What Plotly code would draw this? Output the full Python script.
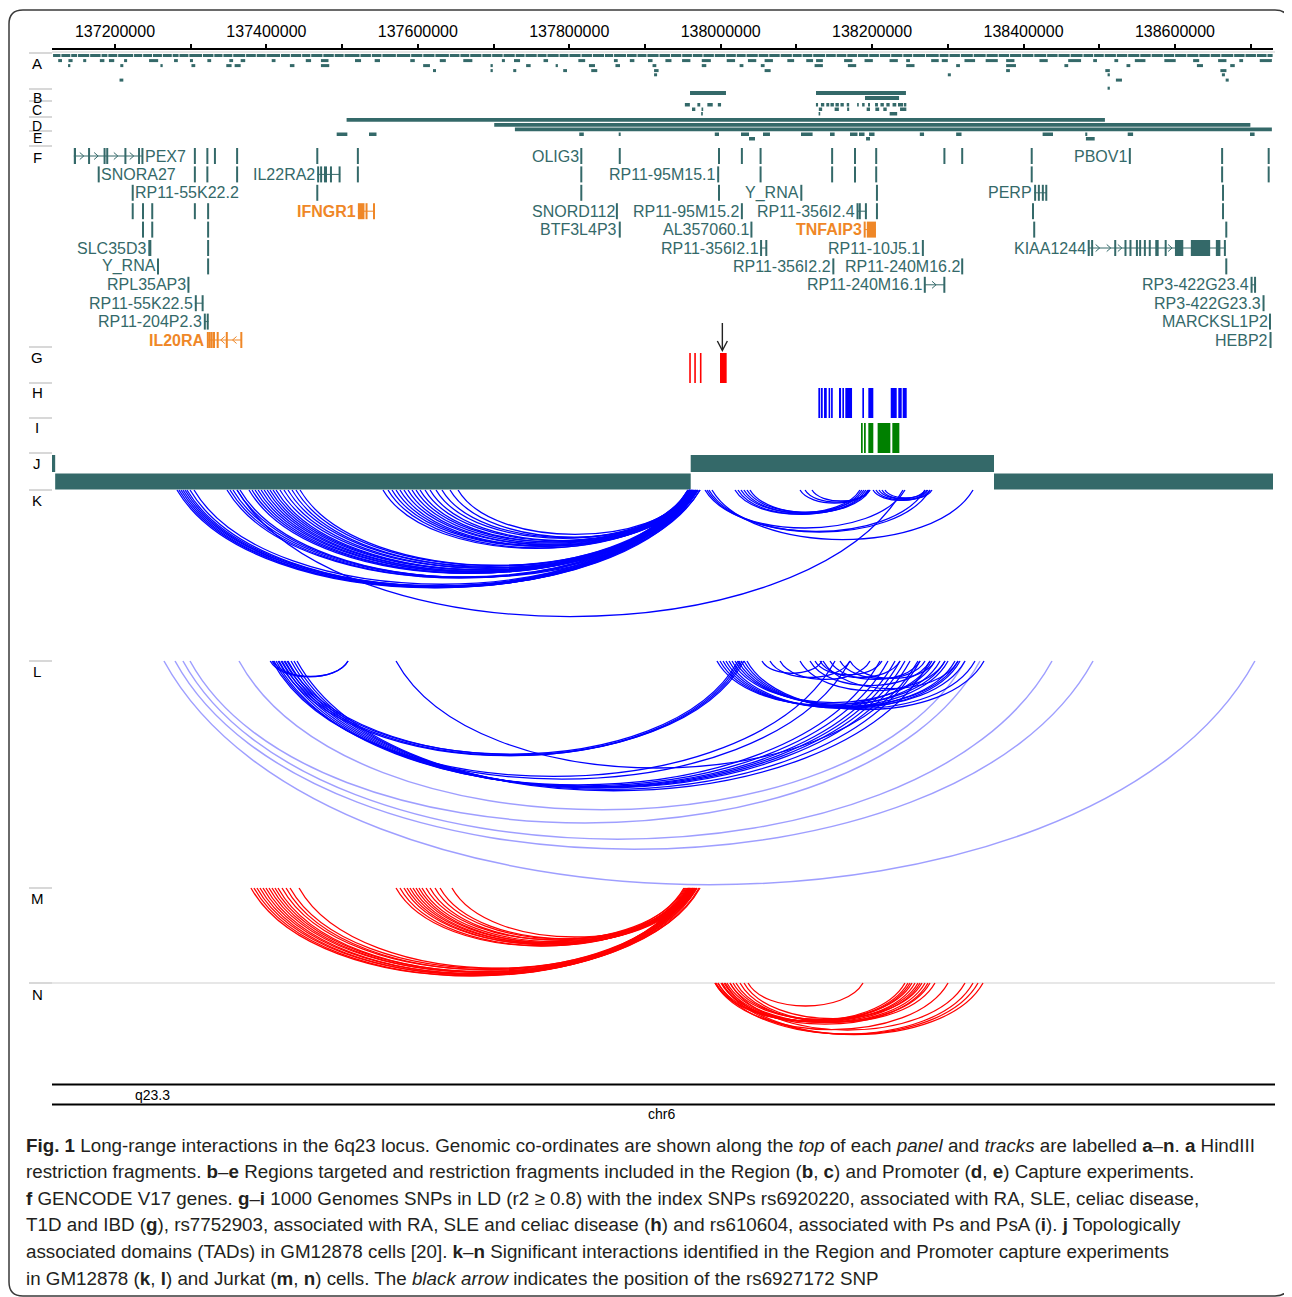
import plotly.graph_objects as go

# ---------------------------------------------------------------- data (kb, chr6)
AXIS_RANGE_KB = [137116.8, 138729.5]

HINDIII_ROW0_BREAKS = [137117, 137128, 137141, 137150, 137166, 137181, 137190, 137203, 137224, 137236, 137249,
    137262, 137275, 137284, 137297, 137315, 137330, 137342, 137355, 137372, 137386, 137399, 137418, 137431,
    137446, 137458, 137474, 137489, 137502, 137523, 137538, 137552, 137571, 137590, 137606, 137622, 137641,
    137655, 137668, 137684, 137697, 137712, 137728, 137741, 137757, 137770, 137786, 137799, 137815, 137830,
    137846, 137858, 137875, 137889, 137902, 137918, 137933, 137948, 137962, 137976, 137991, 138006, 138020,
    138033, 138049, 138063, 138078, 138094, 138107, 138121, 138138, 138152, 138166, 138180, 138195, 138209,
    138224, 138240, 138253, 138270, 138288, 138301, 138316, 138333, 138350, 138366, 138381, 138397, 138413,
    138430, 138445, 138461, 138478, 138492, 138506, 138522, 138537, 138553, 138568, 138584, 138599, 138615,
    138631, 138646, 138660, 138677, 138692, 138707, 138721, 138729]
HINDIII_ROW1 = [[137125,137130],[137138.5,137144],[137158,137162],[137180,137186],[137192,137199],[137212,137216],
    [137245,137257],[137278,137283],[137299,137303],[137322,137327],[137351,137356],[137366,137372],[137407,137412],
    [137452,137459],[137472,137482],[137517,137525],[137543,137550],[137590,137596],[137629,137637],[137660,137672],
    [137711,137715],[137727,137735],[137766,137772],[137812,137821],[137859,137864],[137880,137886],[137904,137910],
    [137927,137935],[137949,137960],[137975,137987],[138008,138019],[138036,138047],[138058,138069],[138088,138097],
    [138113,138122],[138126,138135],[138163,138174],[138190,138201],[138223,138234],[138245,138250],[138278,138288],
    [138292,138300],[138322,138336],[138350,138366],[138377,138388],[138421,138432],[138459,138476],[138492,138497],
    [138520,138525],[138547,138561],[138586,138601],[138624,138632],[138657,138668],[138685,138690],[138712,138728]]
HINDIII_ROW2 = [[137138,137141],[137207,137211],[137260,137263],[137301,137306],[137347,137354],[137358,137366],
    [137431,137437],[137472,137483],[137607,137616],[137696,137699],[137743,137749],[137782,137785],[137826,137834],
    [137861,137867],[137910,137915],[137975,137981],[138025,138030],[138053,138058],[138124,138135],[138168,138179],
    [138245,138256],[138311,138316],[138377,138390],[138454,138459],[138536,138541],[138629,138637],[138673,138679]]
HINDIII_ROW3 = [[137620,137624],[137696,137699],[137726,137730],[137792,137797],[137829,137837],[137912,137918],
    [138058,138066],[138377,138382],[138508,138514],[138660,138668]]
HINDIII_ROW4 = [[137912,137916],[138300,138304],[138511,138514],[138662,138666]]
HINDIII_ROW5 = [[137206,137211],[138522,138530],[138667,138671]]
HINDIII_ROW6 = [[138511,138514]]

REGION_TARGETS_ROW0 = [[137959.5,138007.0],[138125.9,138244.7]]
REGION_TARGETS_ROW1 = [[138190.6,138235.6]]
REGION_FRAGS_ROW0 = [[137952.7,137959.3],[137969.2,137973.0],[137982.4,137989.5],[137996.2,138000.5],
    [138125.8,138128.6],[138132.4,138136.8],[138139.5,138143.4],[138145.0,138149.5],[138151.6,138156.1],
    [138158.2,138162.6],[138166.5,138169.7],[138180.2,138182.4],[138186.8,138190.1],[138194.6,138197.2],
    [138203.9,138207.7],[138211.0,138215.5],[138218.8,138223.2],[138227.0,138231.9],[138234.2,138240.8],
    [138241.9,138245.2]]
REGION_FRAGS_ROW1 = [[137962.1,137966.5],[137974.7,137976.9],[138129.6,138134.0],[138150.5,138156.1],
    [138167.0,138169.7],[138192.8,138197.2],[138204.3,138209.3],[138214.8,138219.3],[138236.9,138245.2]]
REGION_FRAGS_ROW2 = [[137974.2,137976.4],[138129.6,138131.2],[138223.2,138233.1]]

PROMOTER_TARGETS = [[137505.9,138507.5],[137700.9,138699.6],[137728.2,138728.0]]
PROMOTER_FRAGS_ROW0 = [[137492.8,137506.9],[137535.5,137545.4],[137813.2,137819.2],[137865.3,137867.9],
    [137992.2,137997.8],[138026.8,138037.4],[138055.9,138065.1],[138106.1,138121.4],[138144.4,138150.5],
    [138170.8,138180.7],[138182.7,138190.0],[138196.0,138203.2],[138263.0,138268.6],[138311.0,138318.1],
    [138425.2,138438.9],[138481.5,138484.2],[138537.6,138544.7],[138699.1,138705.2]]
PROMOTER_FRAGS_ROW1 = [[138037.4,138045.3],[138192.0,138197.2],[138482.4,138494.0]]

# GENCODE genes: name, row, exons, strand, label side, highlighted
GENE_NAMES = ["PEX7", "OLIG3", "PBOV1", "SNORA27", "IL22RA2", "RP11-95M15.1", "RP11-55K22.2", "Y_RNA", "PERP",
    "IFNGR1", "SNORD112", "RP11-95M15.2", "RP11-356I2.4", "BTF3L4P3", "AL357060.1", "TNFAIP3", "SLC35D3",
    "RP11-356I2.1", "RP11-10J5.1", "KIAA1244", "Y_RNA", "RP11-356I2.2", "RP11-240M16.2", "RPL35AP3",
    "RP11-240M16.1", "RP3-422G23.4", "RP11-55K22.5", "RP3-422G23.3", "RP11-204P2.3", "MARCKSL1P2", "IL20RA", "HEBP2"]
GENE_ROWS = [1, 1, 1, 2, 2, 2, 3, 3, 3, 4, 4, 4, 4, 5, 5, 5, 6, 6, 6, 6, 7, 7, 7, 8, 8, 8, 9, 9, 10, 10, 11, 11]
GENE_EXONS = [
    [[137145.6,137148.5],[137165,137166.5],[137185,137187.5],[137189,137190.5],[137213,137214.5],[137231,137232.5],[137235.5,137237]],
    [[137815.4,137816.4]],
    [[138539.9,138540.9]],
    [[137178.0,137179.0]],
    [[137467.2,137469.5],[137471,137473.5],[137476,137480],[137484.5,137486],[137496,137497.3]],
    [[137996.2,137997.2]],
    [[137222.9,137223.9]],
    [[138106.0,138107.0]],
    [[138414.1,138416.5],[138419.5,138421],[138425,138426],[138429.5,138430.6]],
    [[137520.8,137529.5],[137531.5,137533],[137541.5,137542.7]],
    [[137862.4,137863.4]],
    [[138027.5,138028.5]],
    [[138180,138181.5],[138183,138184.5],[138191,138192.6]],
    [[137866.2,137867.2]],
    [[138040.1,138041.1]],
    [[138189.6,138190.8],[138193,138205.1]],
    [[137244.0,137248.0]],
    [[138052.7,138054],[138059.5,138061]],
    [[138266.3,138267.8]],
    [[138485.4,138486.8],[138490,138491.2],[138520.5,138521.7],[138534,138535.3],[138540.5,138542],[138549,138550.5],
     [138553,138555],[138559.5,138561],[138566,138567.5],[138574,138578.5],[138587,138588.5],[138600,138611],
     [138621,138646.5],[138654,138660],[138665.3,138666.6]],
    [[137256.3,137257.3]],
    [[138148.3,138149.3]],
    [[138318.5,138319.5]],
    [[137296.5,137297.5]],
    [[138269,138270.2],[138294.8,138296]],
    [[138700.7,138701.7],[138705.3,138706.3]],
    [[137305.5,137308],[137315,137316.5]],
    [[138716.5,138717.5]],
    [[137318,137319.3],[137321.5,137323.5]],
    [[138725.0,138726.0]],
    [[137322,137323.3],[137324.5,137325.8],[137327,137328.5],[137330,137331.5],[137335,137336.3],[137347,137348.3],[137366.2,137367.5]],
    [[138725.3,138727.2]],
]
GENE_STRANDS = ["+", "", "", "", "-", "", "", "", "-", "-", "", "", "", "", "", "+", "", "", "", "+", "", "", "",
    "", "+", "", "", "", "", "", "-", ""]
GENE_LABEL_SIDE = ["right", "left", "left", "right", "left", "left", "right", "left", "left", "left", "left", "left",
    "left", "left", "left", "left", "left", "left", "left", "left", "left", "left", "left", "left", "left", "left",
    "left", "left", "left", "left", "left", "left"]
HIGHLIGHT_GENES = ["IFNGR1", "TNFAIP3", "IL20RA"]

UNLABELLED_GENE_ROWS = [1]*18 + [2]*12 + [3]*5 + [4]*8 + [5]*5 + [6] + [7]*2
UNLABELLED_GENE_POS = [137305.5, 137322, 137332, 137361.3, 137467.2, 137520.8, 137866.7, 137997.8, 138028,
    138052.7, 138147.2, 138177.4, 138205.4, 138295.5, 138319, 138410.8, 138662.3, 138723.8,
    137305.5, 137322, 137361.3, 137520.8, 137815.9, 138052.7, 138147.2, 138177.4, 138205.4, 138410.8, 138662.3, 138723.8,
    137467.2, 137815.9, 137997.8, 138206.4, 138663.5,
    137223.4, 137237, 137249.2, 137305.5, 137323, 138206.4, 138412.5, 138663.5,
    137237, 137249.2, 137323, 138414.1, 138667.8,
    137323,
    137323, 138667.8]

SNPS_G = [[137958.6,137960.4],[137965.2,137967.1],[137972.7,137974.5],[137999.1,138007.9]]
SNPS_H = [[138129.0,138131.2],[138132.2,138134.8],[138136.5,138140.1],[138142.7,138144.4],[138145.8,138148.0],
    [138156.3,138159.0],[138160.7,138162.9],[138164.6,138173.5],[138187.1,138189.3],[138195.0,138201.6],
    [138224.6,138232.5],[138234.6,138239.1],[138240.4,138245.7]]
SNPS_I = [[138185.3,138187.6],[138189.3,138191.6],[138195.0,138201.6],[138207.3,138224.1],[138226.7,138236.0]]
RS6927172_KB = 138002.2

TAD_STARTS = [137112.0, 137121.0, 137960.4, 138361.0]
TAD_ENDS = [137121.0, 137960.4, 138361.0, 138735.0]

K_ARCS = [
    [137281.9,137962.1],[137284.5,137959.5],[137287.2,137964.8],[137289.8,137956.8],[137292.5,137967.4],
    [137295.1,137962.1],[137299.1,137970.1],[137304.4,137959.5],
    [137348.0,137959.5],[137351.9,137963.4],[137355.9,137960.8],[137361.2,137967.4],[137365.1,137972.7],
    [137377.0,137956.8],[137381.0,137959.5],[137385.0,137962.1],[137389.0,137958.2],[137393.0,137964.8],
    [137397.0,137960.8],[137401.0,137967.4],[137404.7,137959.5],[137408.7,137963.4],[137412.7,137970.1],
    [137417.9,137962.1],[137423.2,137966.1],[137428.5,137959.5],[137433.8,137972.7],[137439.0,137963.4],
    [137444.4,137968.7],
    [137554.0,137959.5],[137560.6,137963.4],[137565.9,137956.8],[137571.2,137960.8],[137576.4,137966.1],
    [137581.7,137959.5],[137587.0,137968.7],[137592.3,137962.1],[137597.6,137958.2],[137602.9,137964.8],
    [137609.5,137960.8],[137616.1,137967.4],[137624.0,137959.5],[137631.9,137963.4],[137642.5,137970.1],
    [137653.1,137962.1],
    [137361.2,138240.8],
    [137979.3,138243.4],[137981.9,138269.9],[137984.5,138276.5],[137988.5,138333.3],
    [138018.9,138186.6],[138022.8,138191.9],[138026.8,138184.0],[138030.7,138194.5],[138034.7,138189.3],
    [138038.7,138197.2],
    [138104.8,138195.9],[138111.4,138195.9],[138120.6,138197.2],
    [138201.2,138273.8],[138205.1,138276.5],[138209.1,138269.9],[138213.0,138279.1],[138217.0,138272.5]]
L_ARCS_FAINT = [[137264.7,138705.6],[137279.3,138491.8],[137289.8,138437.6],[137299.1,138342.5],[137363.8,138322.7]]
L_ARCS = [
    [137408.7,137507.8],[137405.0,137507.8],
    [137415.3,138025.5],[137419.3,138028.2],[137423.2,138022.9],[137427.2,138030.8],
    [137571.2,138260.6],
    [137412.7,138210.4],[137416.6,138221.0],[137420.6,138230.3],[137424.5,138236.9],[137428.5,138243.4],
    [137432.5,138250.1],[137436.4,138263.3],[137440.4,138276.5],
    [137407.4,138151.0],[137410.0,138170.8],
    [137995.1,138279.1],[137999.1,138289.7],[138003.1,138300.3],[138007.0,138309.5],[138011.0,138316.1],
    [138015.0,138283.0],[138018.9,138296.3],[138022.9,138313.5],[138026.8,138322.7],[138030.8,138335.9],
    [138034.7,138347.8],
    [138124.6,138213.0],[138131.2,138236.9],[138118.0,138276.5],[138144.4,138263.3],[138157.6,138269.9],
    [138170.8,138283.0],[138054.6,138133.8],[138065.1,138170.8],[138078.4,138197.2],[138104.8,138296.3],
    [138135.2,138313.5]]
M_ARCS = [
    [137379.6,137959.5],[137383.6,137963.4],[137387.5,137956.8],[137391.5,137966.1],[137395.5,137960.8],
    [137399.4,137968.7],[137403.4,137958.2],[137407.4,137964.8],[137411.3,137962.1],[137415.3,137971.4],
    [137420.6,137959.5],[137425.9,137967.4],[137431.2,137963.4],[137443.1,137972.7],
    [137571.2,137954.2],[137576.4,137958.2],[137581.7,137951.5],[137585.7,137960.8],[137589.6,137955.5],
    [137593.6,137963.4],[137597.6,137956.8],[137601.5,137966.1],[137605.5,137959.5],[137610.8,137952.8],
    [137616.1,137962.1],[137622.7,137958.2],[137629.3,137964.8],[137645.1,137968.7]]
N_ARCS = [
    [138036.1,138188.0],
    [137992.5,138243.4],[137996.4,138250.1],[138000.4,138256.7],[138004.4,138263.3],[138008.3,138269.9],
    [138012.3,138252.7],[138016.3,138260.6],[138020.2,138276.5],[138025.5,138283.0],[138030.8,138265.9],
    [137993.8,138247.4],[138001.7,138273.8],
    [137992.5,138300.3],[137996.4,138333.3],[138001.7,138339.9],[138006.0,138346.5],[138012.3,138322.7]]

TRACK_LABELS = ["A", "B", "C", "D", "E", "F", "G", "H", "I", "J", "K", "L", "M", "N"]

CAPTION_LINES = [
    "<b>Fig. 1</b> Long-range interactions in the 6q23 locus. Genomic co-ordinates are shown along the <i>top</i> of each <i>panel</i> and <i>tracks</i> are labelled <b>a</b>–<b>n</b>. <b>a</b> HindIII",
    "restriction fragments. <b>b</b>–<b>e</b> Regions targeted and restriction fragments included in the Region (<b>b</b>, <b>c</b>) and Promoter (<b>d</b>, <b>e</b>) Capture experiments.",
    "<b>f</b> GENCODE V17 genes. <b>g</b>–<b>i</b> 1000 Genomes SNPs in LD (r2 ≥ 0.8) with the index SNPs rs6920220, associated with RA, SLE, celiac disease,",
    "T1D and IBD (<b>g</b>), rs7752903, associated with RA, SLE and celiac disease (<b>h</b>) and rs610604, associated with Ps and PsA (<b>i</b>). <b>j</b> Topologically",
    "associated domains (TADs) in GM12878 cells [20]. <b>k</b>–<b>n</b> Significant interactions identified in the Region and Promoter capture experiments",
    "in GM12878 (<b>k</b>, <b>l</b>) and Jurkat (<b>m</b>, <b>n</b>) cells. The <i>black arrow</i> indicates the position of the rs6927172 SNP",
]

# ---------------------------------------------------------------- style
PAGE_W, PAGE_H = 1292, 1297
OFF = 8                      # page body margin: the figure's top-left sits at (8, 8)
W, H = PAGE_W - OFF, PAGE_H - OFF
X0_PX, X1_PX = 52, 1273      # page pixels of the genomic axis
KB = 1000.0
X_RANGE = [AXIS_RANGE_KB[0] * KB, AXIS_RANGE_KB[1] * KB]
BP_PER_PX = (X_RANGE[1] - X_RANGE[0]) / (X1_PX - X0_PX)
TEAL = "#346969"
ORANGE = "#EF8727"
FONT = "Liberation Sans"

shapes = []
anns = []


def px(v):
    """page x pixel -> paper fraction"""
    return (v - OFF) / W


def rect(s_kb, e_kb, y0, y1, color, minpx=1.6):
    a, b = s_kb * KB, e_kb * KB
    if (b - a) / BP_PER_PX < minpx:
        shapes.append(dict(type="rect", xref="x", yref="y", xsizemode="pixel", xanchor=(a + b) / 2,
                           x0=-minpx / 2, x1=minpx / 2, y0=y0, y1=y1, fillcolor=color, line=dict(width=0)))
    else:
        shapes.append(dict(type="rect", xref="x", yref="y", x0=a, x1=b, y0=y0, y1=y1,
                           fillcolor=color, line=dict(width=0)))


def hline(s_kb, e_kb, y, color, width=1):
    shapes.append(dict(type="line", xref="x", yref="y", x0=s_kb * KB, x1=e_kb * KB, y0=y, y1=y,
                       line=dict(color=color, width=width)))


def arc(s_kb, e_kb, top, color, width, scale):
    a, b = s_kb * KB, e_kb * KB
    depth = scale * (b - a) / BP_PER_PX
    h = 4.0 * depth / 3.0
    k = 0.15 * (b - a)
    path = f"M{a},{top} C{a + k},{top + h} {b - k},{top + h} {b},{top}"
    shapes.append(dict(type="path", xref="x", yref="y", path=path, line=dict(color=color, width=width)))


def chevron(x_kb, y, strand, color):
    if strand == "+":
        p = f"M-2.5,{y - 3.5} L1.5,{y} L-2.5,{y + 3.5}"
    else:
        p = f"M2.5,{y - 3.5} L-1.5,{y} L2.5,{y + 3.5}"
    shapes.append(dict(type="path", xref="x", yref="y", xsizemode="pixel", xanchor=x_kb * KB, path=p,
                       line=dict(color=color, width=1)))


def text(x, y, s, size=16, color="black", xanchor="center", xref="paper", bold=False, xshift=0, family=FONT):
    anns.append(dict(x=x, y=y, xref=xref, yref="y", text=s, showarrow=False, xanchor=xanchor, yanchor="middle",
                     xshift=xshift, borderpad=0,
                     font=dict(family=family, size=size, color=color, weight="bold" if bold else "normal")))


# ---------------------------------------------------------------- frame and track labels
fx0, fx1, fy0, fy1, r = px(9), px(1289), 10, 1296, 14
rx = r / W
shapes.append(dict(type="path", xref="paper", yref="y", line=dict(color="#3a3a3a", width=1.5),
                   path=(f"M{fx0 + rx},{fy0} L{fx1 - rx},{fy0} Q{fx1},{fy0} {fx1},{fy0 + r} L{fx1},{fy1 - r} "
                         f"Q{fx1},{fy1} {fx1 - rx},{fy1} L{fx0 + rx},{fy1} Q{fx0},{fy1} {fx0},{fy1 - r} "
                         f"L{fx0},{fy0 + r} Q{fx0},{fy0} {fx0 + rx},{fy0} Z")))

LABEL_Y = [63, 98, 109.5, 126, 137.5, 157, 357, 392, 427, 463, 500, 671, 898, 994]
LABEL_SIZE = [15, 14, 14, 14, 14, 15, 15, 15, 15, 15, 15, 15, 15, 15]
SEP_Y = [53, 89, 101, 117, 131, 146, 347, 383, 418, 453, 490, 661, 888, 983]
for lab, ly, ls in zip(TRACK_LABELS, LABEL_Y, LABEL_SIZE):
    text(px(37), ly, lab, size=ls)
for sy in SEP_Y:
    shapes.append(dict(type="line", xref="paper", yref="y", x0=px(29), x1=px(52), y0=sy, y1=sy,
                       line=dict(color="#d8d8d8", width=2)))
for sy in (52, 983):
    shapes.append(dict(type="line", xref="paper", yref="y", x0=px(52), x1=px(1275), y0=sy, y1=sy,
                       line=dict(color="#d0d0d0", width=1.2)))

# ---------------------------------------------------------------- A: HindIII fragments
A_ROW_Y = [55.5, 60.6, 65.6, 70.6, 74.8, 80.1, 88.2]
gap_kb = 0.9 * BP_PER_PX / KB
for s, e in zip(HINDIII_ROW0_BREAKS[:-1], HINDIII_ROW0_BREAKS[1:]):
    rect(s + gap_kb, e, A_ROW_Y[0] - 1.5, A_ROW_Y[0] + 1.5, TEAL)
for ri, rows in enumerate([HINDIII_ROW1, HINDIII_ROW2, HINDIII_ROW3, HINDIII_ROW4, HINDIII_ROW5, HINDIII_ROW6], 1):
    for s, e in rows:
        rect(s, e, A_ROW_Y[ri] - 1.5, A_ROW_Y[ri] + 1.5, TEAL)

# ---------------------------------------------------------------- B-E
for s, e in REGION_TARGETS_ROW0:
    rect(s, e, 91, 95, TEAL)
for s, e in REGION_TARGETS_ROW1:
    rect(s, e, 96, 100, TEAL)
for yy, rows in zip([103, 107.5, 112], [REGION_FRAGS_ROW0, REGION_FRAGS_ROW1, REGION_FRAGS_ROW2]):
    for s, e in rows:
        rect(s, e, yy, yy + 3.5, TEAL)
for yy, (s, e) in zip([118, 123, 127.5], PROMOTER_TARGETS):
    rect(s, e, yy, yy + 3.8, TEAL)
for yy, rows in zip([132.5, 137], [PROMOTER_FRAGS_ROW0, PROMOTER_FRAGS_ROW1]):
    for s, e in rows:
        rect(s, e, yy, yy + 3.5, TEAL)

# ---------------------------------------------------------------- F: genes
ROW_Y0, ROW_STEP, EX_H = 156.0, 18.4, 8.0
for row, pos in zip(UNLABELLED_GENE_ROWS, UNLABELLED_GENE_POS):
    y = ROW_Y0 + (row - 1) * ROW_STEP
    rect(pos - 0.5, pos + 0.5, y - EX_H, y + EX_H, TEAL, minpx=2)

for name, row, exons, strand, side in zip(GENE_NAMES, GENE_ROWS, GENE_EXONS, GENE_STRANDS, GENE_LABEL_SIDE):
    y = ROW_Y0 + (row - 1) * ROW_STEP
    col = ORANGE if name in HIGHLIGHT_GENES else TEAL
    g0, g1 = exons[0][0], exons[-1][1]
    if len(exons) > 1:
        hline(g0, g1, y, col, 1)
    for s, e in exons:
        rect(s, e, y - EX_H, y + EX_H, col, minpx=2)
    if strand:
        for (s0, e0), (s1, e1) in zip(exons[:-1], exons[1:]):
            gpx = (s1 - e0) * KB / BP_PER_PX
            if gpx > 8:
                n = max(1, int(gpx // 11))
                for i in range(n):
                    chevron(e0 + (s1 - e0) * (i + 0.5) / n, y, strand, col)
    if side == "left":
        text(g0 * KB, y, name, color=col, xanchor="right", xref="x", bold=name in HIGHLIGHT_GENES, xshift=-1)
    else:
        text(g1 * KB, y, name, color=col, xanchor="left", xref="x", bold=name in HIGHLIGHT_GENES, xshift=1)

# ---------------------------------------------------------------- G-I SNPs, arrow
for s, e in SNPS_G:
    rect(s, e, 353, 383, "#FF0000")
for s, e in SNPS_H:
    rect(s, e, 388, 418, "#0000FF")
for s, e in SNPS_I:
    rect(s, e, 423, 453, "#008000")
shapes.append(dict(type="line", xref="x", yref="y", x0=RS6927172_KB * KB, x1=RS6927172_KB * KB, y0=323, y1=350,
                   line=dict(color="#222", width=1.4)))
shapes.append(dict(type="path", xref="x", yref="y", xsizemode="pixel", xanchor=RS6927172_KB * KB,
                   path="M-5,341 L0,350.5 L5,341", line=dict(color="#222", width=1.4)))

# ---------------------------------------------------------------- J: TADs
for i, (s, e) in enumerate(zip(TAD_STARTS, TAD_ENDS)):
    if i % 2 == 0:
        rect(s, e, 455, 472, TEAL)
    else:
        rect(s, e, 473.5, 489.5, TEAL)

# ---------------------------------------------------------------- K-N arcs
for s, e in K_ARCS:
    arc(s, e, 490, "#0000FF", 1.3, 0.19)
for s, e in L_ARCS_FAINT:
    arc(s, e, 661, "rgba(0,0,255,0.38)", 1.5, 0.205)
for s, e in L_ARCS:
    arc(s, e, 661, "#0000FF", 1.3, 0.205)
for s, e in M_ARCS:
    arc(s, e, 888, "#FF0000", 1.3, 0.2)
for s, e in N_ARCS:
    arc(s, e, 983, "#FF0000", 1.3, 0.2)

# ---------------------------------------------------------------- ideogram
for yy in (1084.5, 1104.5):
    shapes.append(dict(type="line", xref="paper", yref="y", x0=px(52), x1=px(1275), y0=yy, y1=yy,
                       line=dict(color="black", width=2)))
text(px(152), 1094.5, "q23.3", size=14)
text(px(661), 1114, "chr6", size=14)

# ---------------------------------------------------------------- caption
for i, line in enumerate(CAPTION_LINES):
    text(px(25), 1145 + i * 26.6, line, size=18.8, color="#231f20", xanchor="left")

# ---------------------------------------------------------------- figure
fig = go.Figure()
fig.add_trace(go.Scatter(x=[X_RANGE[0]], y=[-100], mode="markers", marker=dict(opacity=0), hoverinfo="skip",
                         showlegend=False))
fig.update_layout(
    width=W, height=H, margin=dict(l=0, r=0, t=0, b=0),
    paper_bgcolor="white", plot_bgcolor="white", showlegend=False,
    shapes=shapes, annotations=anns,
    xaxis=dict(domain=[px(X0_PX), px(X1_PX)], range=X_RANGE, side="top", anchor="free",
               position=1 - (48.5 - OFF) / H,
               showline=True, linecolor="black", linewidth=2, ticks="outside", ticklen=4, tickwidth=1.5,
               tickcolor="black", tick0=137200000, dtick=200000, tickformat="d",
               tickfont=dict(family=FONT, size=16, color="black"), showgrid=False, zeroline=False,
               minor=dict(dtick=100000, tick0=137100000, ticks="outside", ticklen=4, tickwidth=1.5,
                          tickcolor="black", showgrid=False),
               fixedrange=True),
    yaxis=dict(domain=[0, 1], range=[PAGE_H, OFF], visible=False, fixedrange=True),
)
fig.write_html("out.html")
